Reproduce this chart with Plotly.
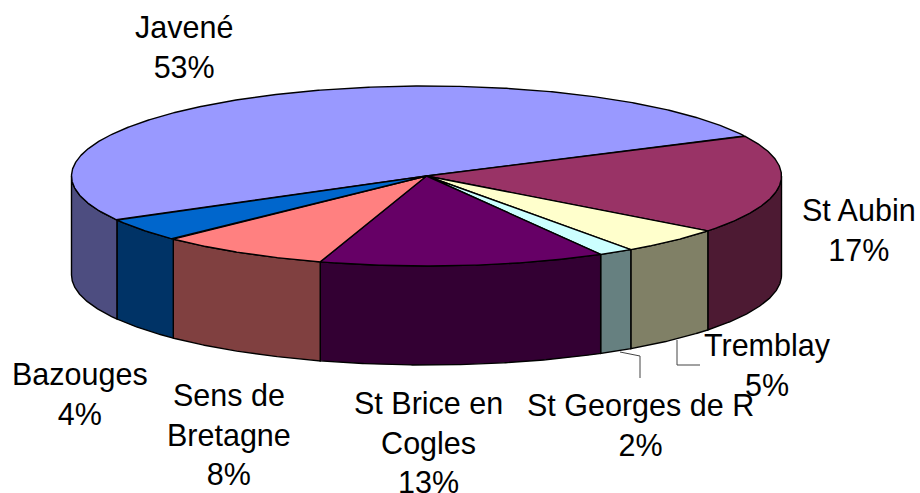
import numpy as np
import plotly.graph_objects as go

categories = ["Javené", "St Aubin", "Tremblay", "St Georges de R", "St Brice en Cogles", "Sens de Bretagne", "Bazouges"]
values = [50.8, 17.8, 4.8, 1.6, 13.0, 7.8, 4.2]
# percentages as printed in the labels
percents = [53, 17, 5, 2, 13, 8, 4]
wrapped_names = ["Javené", "St Aubin", "Tremblay", "St Georges de R", "St Brice en<br>Cogles", "Sens de<br>Bretagne", "Bazouges"]
top_colors = ["#9999FF", "#993366", "#FFFFCC", "#CCFFFF", "#660066", "#FF8080", "#0066CC"]
side_colors = ["#4D4D80", "#4D1A33", "#808066", "#668080", "#330033", "#804040", "#003366"]
label_xy = [(184, 47), (859, 230), (767, 365), (640, 425), (428, 442), (229, 434), (80, 394)]

CX, CY, RX, RY, DEPTH = 426.5, 176, 355, 90, 99
FIRST_END = 26.5  # angle where the first slice ends, clockwise order

def ring(a0, a1, dy=0):
    t = np.radians(np.linspace(a0, a1, max(int(abs(a1 - a0) * 3), 2)))
    return CX + RX * np.cos(t), CY + dy - RY * np.sin(t)

spans = np.array(values) / sum(values) * 360
# clockwise on screen = decreasing angle; the first slice begins one span before FIRST_END
edges = FIRST_END + spans[0] - np.concatenate([[0], np.cumsum(spans)])

fig = go.Figure()
LW = 1.4

def poly(x, y, fill):
    fig.add_trace(go.Scatter(x=x, y=y, mode="lines", fill="toself", fillcolor=fill,
                             line=dict(color="black", width=LW), hoverinfo="skip", showlegend=False))

# outer wall: only the front half (angles 180..360) is visible
for i in range(len(values)):
    hi0, lo0 = edges[i], edges[i + 1]
    for shift in (0, -360, 360):
        hi, lo = min(hi0 + shift, 0), max(lo0 + shift, -180)
        if hi > lo:
            x1, y1 = ring(hi, lo)
            x2, y2 = ring(lo, hi, DEPTH)
            poly(np.r_[x1, x2, x1[0]], np.r_[y1, y2, y1[0]], side_colors[i])

# top faces
for i in range(len(values)):
    x, y = ring(edges[i], edges[i + 1])
    poly(np.r_[CX, x, CX], np.r_[CY, y, CY], top_colors[i])

# leader lines
for lx, ly in (([677, 677, 700], [340, 365, 365]), ([620, 640, 640], [352, 356, 378])):
    fig.add_trace(go.Scatter(x=lx, y=ly, mode="lines", line=dict(color="#444444", width=1),
                             hoverinfo="skip", showlegend=False))

for name, pct, (lx, ly) in zip(wrapped_names, percents, label_xy):
    fig.add_annotation(x=lx, y=ly, text=f"{name}<br>{pct}%", showarrow=False,
                       xanchor="center", yanchor="middle", align="center",
                       font=dict(family="Liberation Sans", size=30.5, color="black"))

fig.update_xaxes(range=[0, 920], visible=False, fixedrange=True)
fig.update_yaxes(range=[493, 0], visible=False, fixedrange=True)
fig.update_layout(width=920, height=493, margin=dict(l=0, r=0, t=0, b=0),
                  paper_bgcolor="white", plot_bgcolor="white")
fig.write_html("out.html", config={"displayModeBar": False},
               post_script="document.body.style.margin='0';document.body.style.overflow='hidden';")
